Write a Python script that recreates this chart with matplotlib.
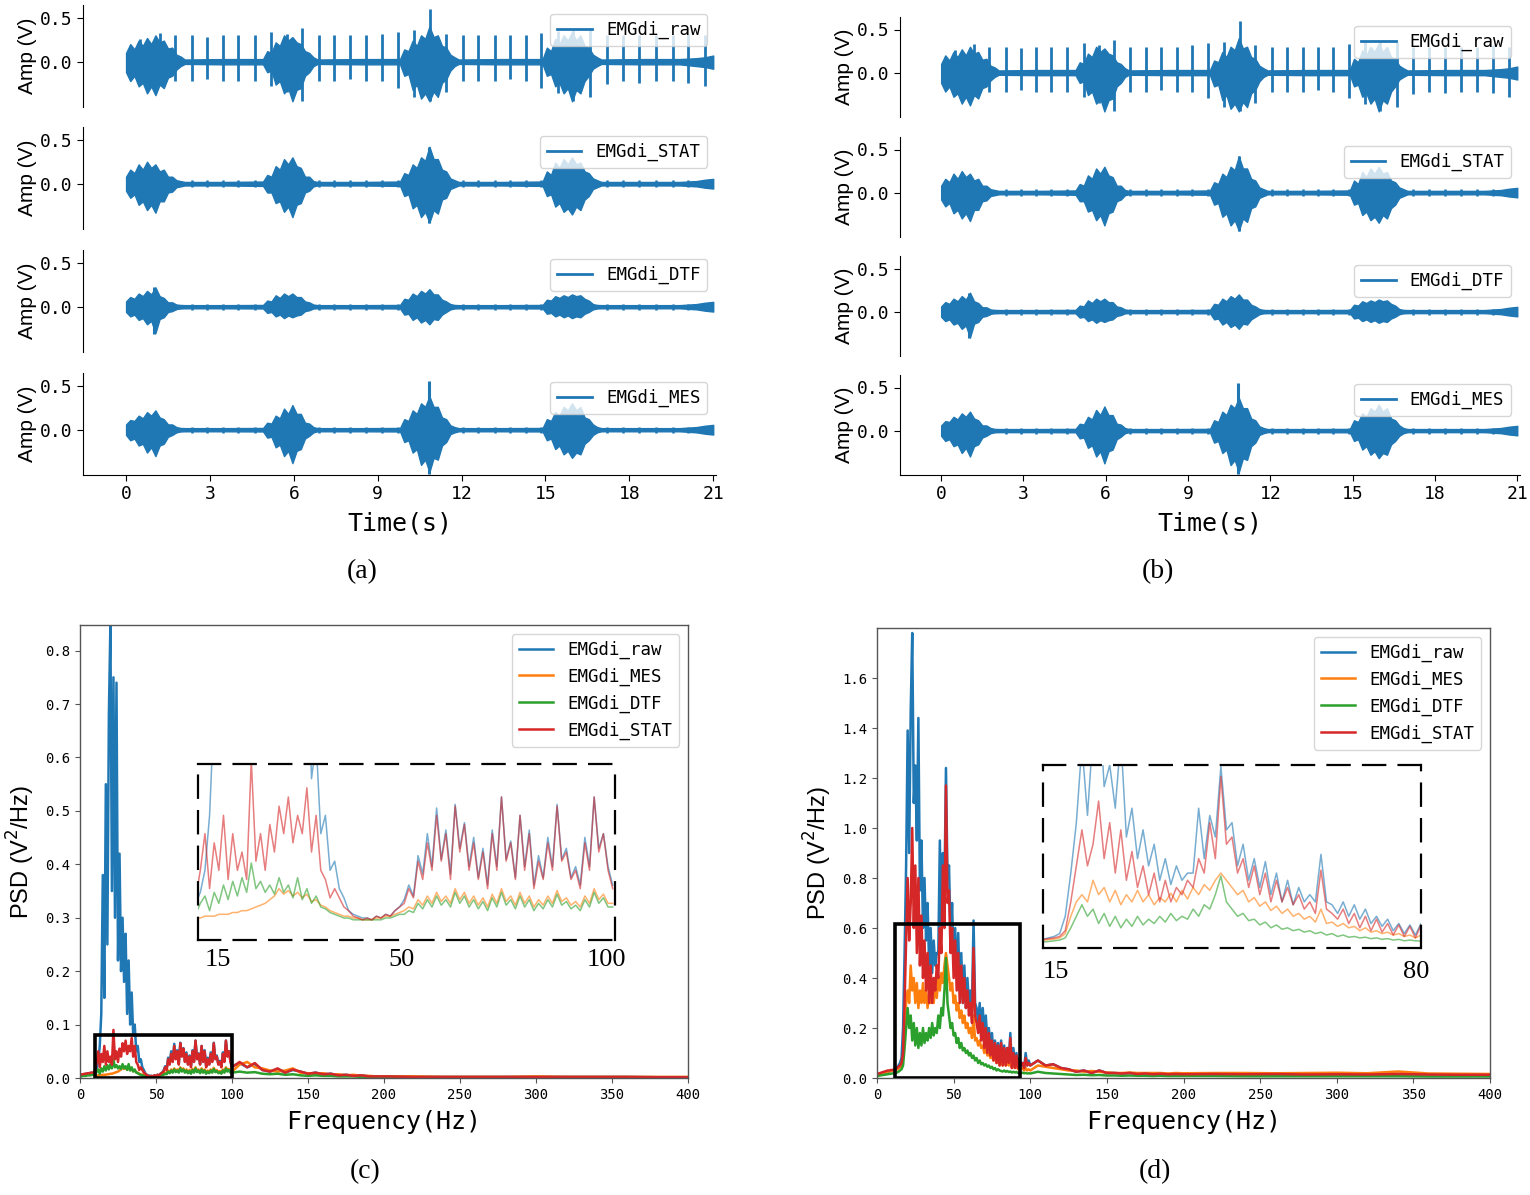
import numpy as np
import matplotlib
matplotlib.use('Agg')
import matplotlib.pyplot as plt
from matplotlib.patches import Rectangle
from matplotlib.lines import Line2D
from matplotlib import font_manager as fm

# ---------------- data: time-domain envelopes (V) ----------------
sig_names = ['EMGdi_raw', 'EMGdi_STAT', 'EMGdi_DTF', 'EMGdi_MES']
time_ticks = [0, 3, 6, 9, 12, 15, 18, 21]

# knot times of the envelopes (s)
env_t = [0.0, 0.15, 0.3, 0.45, 0.6, 0.75, 0.9, 1.05, 1.2, 1.35, 1.5, 1.65, 1.8, 1.95, 2.1,
         3.5,
         4.9, 5.05, 5.2, 5.35, 5.5, 5.65, 5.8, 5.95, 6.1, 6.25, 6.4, 6.55, 6.7, 6.85,
         8.4,
         9.8, 9.95, 10.1, 10.25, 10.4, 10.55, 10.7, 10.85, 11.0, 11.15, 11.3, 11.45, 11.6, 11.75, 11.9,
         13.4,
         14.9, 15.05, 15.2, 15.35, 15.5, 15.65, 15.8, 15.95, 16.1, 16.25, 16.4, 16.55, 16.7, 16.85, 17.0,
         18.5, 19.8, 20.4, 20.7, 21.0]

raw_up = [0.10, 0.20, 0.14, 0.24, 0.18, 0.27, 0.20, 0.30, 0.22, 0.24, 0.15, 0.16, 0.08, 0.06, 0.025,
          0.03,
          0.03, 0.12, 0.10, 0.22, 0.18, 0.30, 0.24, 0.28, 0.22, 0.20, 0.12, 0.10, 0.05, 0.025,
          0.03,
          0.03, 0.14, 0.12, 0.24, 0.18, 0.30, 0.26, 0.40, 0.28, 0.30, 0.18, 0.16, 0.08, 0.05, 0.025,
          0.03,
          0.03, 0.16, 0.12, 0.26, 0.20, 0.30, 0.24, 0.34, 0.24, 0.30, 0.18, 0.16, 0.08, 0.05, 0.025,
          0.03, 0.03, 0.04, 0.05, 0.07]
raw_lo = [-0.12, -0.22, -0.16, -0.28, -0.24, -0.36, -0.28, -0.38, -0.26, -0.30, -0.18, -0.16, -0.09, -0.05, -0.025,
          -0.03,
          -0.03, -0.12, -0.10, -0.26, -0.22, -0.36, -0.30, -0.45, -0.32, -0.30, -0.16, -0.12, -0.05, -0.025,
          -0.03,
          -0.03, -0.16, -0.14, -0.32, -0.26, -0.42, -0.36, -0.45, -0.34, -0.40, -0.24, -0.20, -0.10, -0.05, -0.025,
          -0.03,
          -0.03, -0.16, -0.14, -0.28, -0.24, -0.36, -0.30, -0.45, -0.32, -0.36, -0.22, -0.16, -0.08, -0.05, -0.025,
          -0.03, -0.03, -0.05, -0.06, -0.08]

stat_up = [0.08, 0.16, 0.12, 0.22, 0.16, 0.25, 0.18, 0.22, 0.14, 0.16, 0.08, 0.08, 0.04, 0.03, 0.02,
           0.02,
           0.025, 0.10, 0.08, 0.20, 0.16, 0.28, 0.22, 0.30, 0.20, 0.18, 0.08, 0.08, 0.03, 0.02,
           0.02,
           0.025, 0.12, 0.10, 0.22, 0.18, 0.30, 0.26, 0.42, 0.28, 0.28, 0.16, 0.14, 0.06, 0.04, 0.02,
           0.02,
           0.025, 0.14, 0.10, 0.24, 0.18, 0.28, 0.22, 0.30, 0.22, 0.24, 0.14, 0.12, 0.06, 0.04, 0.02,
           0.02, 0.02, 0.03, 0.045, 0.055]
stat_lo = [-0.08, -0.16, -0.12, -0.24, -0.20, -0.30, -0.24, -0.33, -0.20, -0.20, -0.10, -0.09, -0.04, -0.03, -0.02,
           -0.02,
           -0.025, -0.10, -0.10, -0.22, -0.20, -0.32, -0.26, -0.38, -0.24, -0.22, -0.10, -0.08, -0.03, -0.02,
           -0.02,
           -0.025, -0.14, -0.12, -0.28, -0.24, -0.38, -0.32, -0.44, -0.30, -0.34, -0.18, -0.16, -0.06, -0.04, -0.02,
           -0.02,
           -0.025, -0.14, -0.12, -0.26, -0.22, -0.32, -0.28, -0.35, -0.26, -0.30, -0.18, -0.14, -0.06, -0.04, -0.02,
           -0.02, -0.02, -0.03, -0.045, -0.055]

dtf_up = [0.06, 0.11, 0.09, 0.15, 0.12, 0.18, 0.14, 0.22, 0.12, 0.10, 0.05, 0.05, 0.025, 0.02, 0.018,
          0.018,
          0.02, 0.07, 0.06, 0.13, 0.10, 0.15, 0.12, 0.15, 0.11, 0.11, 0.06, 0.05, 0.025, 0.018,
          0.018,
          0.02, 0.09, 0.08, 0.15, 0.12, 0.18, 0.15, 0.20, 0.14, 0.14, 0.08, 0.06, 0.03, 0.02, 0.018,
          0.018,
          0.02, 0.08, 0.07, 0.12, 0.10, 0.13, 0.11, 0.14, 0.12, 0.13, 0.09, 0.07, 0.03, 0.02, 0.018,
          0.018, 0.018, 0.03, 0.045, 0.055]
dtf_lo = [-0.06, -0.11, -0.09, -0.15, -0.13, -0.20, -0.16, -0.30, -0.14, -0.12, -0.06, -0.05, -0.025, -0.02, -0.018,
          -0.018,
          -0.02, -0.07, -0.06, -0.11, -0.09, -0.13, -0.10, -0.12, -0.10, -0.09, -0.05, -0.04, -0.02, -0.018,
          -0.018,
          -0.02, -0.09, -0.08, -0.15, -0.12, -0.18, -0.15, -0.20, -0.14, -0.15, -0.09, -0.06, -0.03, -0.02, -0.018,
          -0.018,
          -0.02, -0.08, -0.07, -0.11, -0.09, -0.12, -0.10, -0.13, -0.11, -0.12, -0.08, -0.06, -0.03, -0.02, -0.018,
          -0.018, -0.018, -0.03, -0.045, -0.055]

mes_up = [0.06, 0.11, 0.10, 0.16, 0.13, 0.20, 0.16, 0.22, 0.14, 0.12, 0.06, 0.06, 0.03, 0.02, 0.018,
          0.018,
          0.02, 0.08, 0.07, 0.16, 0.13, 0.24, 0.18, 0.28, 0.18, 0.18, 0.08, 0.07, 0.03, 0.018,
          0.018,
          0.02, 0.12, 0.10, 0.22, 0.18, 0.30, 0.26, 0.38, 0.26, 0.26, 0.14, 0.12, 0.05, 0.03, 0.018,
          0.018,
          0.02, 0.12, 0.10, 0.20, 0.16, 0.26, 0.22, 0.30, 0.22, 0.26, 0.14, 0.12, 0.06, 0.03, 0.018,
          0.018, 0.018, 0.03, 0.045, 0.055]
mes_lo = [-0.06, -0.12, -0.10, -0.18, -0.16, -0.26, -0.20, -0.30, -0.18, -0.16, -0.08, -0.06, -0.03, -0.02, -0.018,
          -0.018,
          -0.02, -0.09, -0.08, -0.20, -0.17, -0.30, -0.24, -0.38, -0.24, -0.22, -0.10, -0.07, -0.03, -0.018,
          -0.018,
          -0.02, -0.14, -0.12, -0.26, -0.22, -0.40, -0.34, -0.48, -0.32, -0.34, -0.18, -0.14, -0.05, -0.03, -0.018,
          -0.018,
          -0.02, -0.12, -0.10, -0.22, -0.18, -0.28, -0.24, -0.32, -0.26, -0.28, -0.16, -0.12, -0.06, -0.03, -0.018,
          -0.018, -0.018, -0.03, -0.045, -0.055]

# cardiac artefact spikes in the raw signal
spike_t = [0.5, 1.2, 1.75, 2.35, 2.9, 3.47, 4.02, 4.6, 5.2, 5.75, 6.3, 6.9, 7.45, 8.0, 8.58, 9.15,
           9.72, 10.3, 10.88, 11.45, 12.05, 12.6, 13.18, 13.75, 14.3, 14.85, 15.45, 16.0, 16.6, 17.2,
           17.78, 18.35, 18.95, 19.55, 20.1, 20.7]
spike_up = [0.26, 0.33, 0.30, 0.30, 0.28, 0.30, 0.30, 0.30, 0.34, 0.32, 0.38, 0.30, 0.30, 0.30, 0.30, 0.32,
            0.34, 0.36, 0.60, 0.32, 0.30, 0.30, 0.30, 0.30, 0.30, 0.33, 0.35, 0.36, 0.36, 0.30,
            0.30, 0.30, 0.30, 0.30, 0.32, 0.30]
spike_lo = [-0.20, -0.25, -0.22, -0.22, -0.20, -0.22, -0.22, -0.22, -0.28, -0.35, -0.45, -0.22, -0.22, -0.20, -0.22, -0.22,
            -0.30, -0.40, -0.45, -0.35, -0.22, -0.22, -0.22, -0.20, -0.22, -0.30, -0.36, -0.45, -0.40, -0.25,
            -0.22, -0.24, -0.22, -0.22, -0.24, -0.28]
# residual artefact amplitude left in the filtered signals
resid_amp = [0.0, 0.04, 0.035, 0.035]
# isolated peaks of the filtered signals
peak_t = [[], [10.85], [1.0], [10.82]]
peak_up = [[], [0.42], [0.22], [0.55]]
peak_lo = [[], [-0.45], [-0.31], [-0.50]]

env_up = [raw_up, stat_up, dtf_up, mes_up]
env_lo = [raw_lo, stat_lo, dtf_lo, mes_lo]

# ---------------- data: PSD (V^2/Hz) ----------------
psd_names = ['EMGdi_raw', 'EMGdi_MES', 'EMGdi_DTF', 'EMGdi_STAT']
f_lo = np.arange(0, 101)  # 1 Hz bins, 0-100 Hz
f_tail = [105, 110, 115, 120, 125, 130, 135, 140, 145, 150, 155, 160, 165, 170, 175,
          180, 185, 190, 195, 200, 220, 240, 260, 280, 300, 320, 340, 360, 380, 400]

c_raw = [0.004, 0.005, 0.006, 0.007, 0.008, 0.008, 0.009, 0.009, 0.010, 0.010,
         0.012, 0.018, 0.030, 0.060, 0.120, 0.380, 0.150, 0.550, 0.250, 0.680,
         0.850, 0.350, 0.750, 0.300, 0.740, 0.220, 0.420, 0.200, 0.300, 0.180,
         0.270, 0.120, 0.220, 0.100, 0.160, 0.080, 0.100, 0.050, 0.060, 0.030,
         0.035, 0.020, 0.015, 0.008, 0.006, 0.005, 0.004, 0.004, 0.003, 0.005,
         0.004, 0.006, 0.005, 0.008, 0.010, 0.014, 0.022, 0.016, 0.038, 0.028,
         0.050, 0.032, 0.064, 0.036, 0.052, 0.028, 0.066, 0.042, 0.056, 0.032,
         0.048, 0.026, 0.042, 0.022, 0.052, 0.032, 0.070, 0.036, 0.046, 0.026,
         0.060, 0.032, 0.052, 0.022, 0.038, 0.026, 0.048, 0.032, 0.066, 0.036,
         0.042, 0.026, 0.032, 0.022, 0.048, 0.032, 0.070, 0.042, 0.050, 0.032,
         0.022]
c_mes = [0.005, 0.005, 0.006, 0.006, 0.007, 0.007, 0.007, 0.008, 0.008, 0.008,
         0.004, 0.004, 0.005, 0.005, 0.005, 0.006, 0.006, 0.006, 0.007, 0.007,
         0.008, 0.008, 0.009, 0.010, 0.011, 0.012, 0.014, 0.016, 0.020, 0.017,
         0.019, 0.016, 0.018, 0.015, 0.017, 0.013, 0.014, 0.011, 0.010, 0.008,
         0.007, 0.006, 0.005, 0.005, 0.004, 0.004, 0.003, 0.003, 0.003, 0.004,
         0.004, 0.005, 0.005, 0.006, 0.007, 0.008, 0.010, 0.009, 0.014, 0.011,
         0.016, 0.012, 0.018, 0.013, 0.016, 0.012, 0.020, 0.014, 0.018, 0.012,
         0.016, 0.011, 0.015, 0.010, 0.017, 0.012, 0.020, 0.013, 0.016, 0.011,
         0.018, 0.012, 0.016, 0.010, 0.014, 0.011, 0.016, 0.012, 0.019, 0.013,
         0.015, 0.011, 0.013, 0.010, 0.016, 0.012, 0.020, 0.014, 0.017, 0.012,
         0.012]
c_dtf = [0.003, 0.003, 0.004, 0.004, 0.004, 0.005, 0.005, 0.005, 0.006, 0.006,
         0.006, 0.012, 0.016, 0.008, 0.018, 0.012, 0.022, 0.014, 0.024, 0.016,
         0.026, 0.018, 0.034, 0.020, 0.024, 0.018, 0.022, 0.017, 0.026, 0.018,
         0.022, 0.015, 0.026, 0.014, 0.020, 0.012, 0.016, 0.010, 0.009, 0.007,
         0.006, 0.005, 0.004, 0.004, 0.003, 0.003, 0.003, 0.003, 0.003, 0.003,
         0.003, 0.004, 0.004, 0.005, 0.006, 0.006, 0.008, 0.007, 0.012, 0.009,
         0.014, 0.010, 0.016, 0.011, 0.014, 0.010, 0.018, 0.012, 0.016, 0.010,
         0.014, 0.009, 0.013, 0.008, 0.015, 0.010, 0.018, 0.011, 0.014, 0.009,
         0.016, 0.010, 0.014, 0.008, 0.012, 0.009, 0.014, 0.010, 0.017, 0.011,
         0.013, 0.009, 0.011, 0.008, 0.014, 0.010, 0.018, 0.012, 0.015, 0.010,
         0.010]
c_stat = [0.006, 0.007, 0.007, 0.008, 0.008, 0.009, 0.009, 0.010, 0.010, 0.010,
          0.015, 0.030, 0.050, 0.020, 0.045, 0.030, 0.060, 0.025, 0.050, 0.030,
          0.040, 0.025, 0.090, 0.035, 0.050, 0.030, 0.055, 0.040, 0.065, 0.050,
          0.070, 0.045, 0.060, 0.050, 0.075, 0.040, 0.060, 0.030, 0.025, 0.015,
          0.020, 0.015, 0.010, 0.008, 0.005, 0.004, 0.003, 0.004, 0.003, 0.005,
          0.004, 0.006, 0.005, 0.008, 0.010, 0.012, 0.020, 0.015, 0.035, 0.025,
          0.045, 0.030, 0.060, 0.035, 0.050, 0.025, 0.065, 0.040, 0.055, 0.030,
          0.045, 0.025, 0.040, 0.020, 0.050, 0.030, 0.070, 0.035, 0.045, 0.025,
          0.060, 0.030, 0.050, 0.020, 0.035, 0.025, 0.045, 0.030, 0.065, 0.035,
          0.040, 0.025, 0.030, 0.020, 0.045, 0.030, 0.070, 0.040, 0.050, 0.030,
          0.020]
c_raw_tail = [0.028, 0.020, 0.026, 0.015, 0.012, 0.017, 0.010, 0.015, 0.012, 0.008, 0.010, 0.007, 0.008, 0.005, 0.006,
              0.004, 0.005, 0.003, 0.003, 0.003, 0.002, 0.002, 0.002, 0.002, 0.002, 0.002, 0.002, 0.002, 0.0015, 0.0015]
c_mes_tail = [0.025, 0.030, 0.020, 0.018, 0.014, 0.012, 0.014, 0.018, 0.010, 0.009, 0.008, 0.009, 0.006, 0.007, 0.005,
              0.006, 0.004, 0.004, 0.003, 0.003, 0.003, 0.002, 0.002, 0.002, 0.003, 0.002, 0.002, 0.002, 0.002, 0.002]
c_dtf_tail = [0.012, 0.010, 0.011, 0.008, 0.007, 0.008, 0.006, 0.007, 0.005, 0.004, 0.005, 0.004, 0.004, 0.003, 0.003,
              0.003, 0.002, 0.002, 0.002, 0.002, 0.0015, 0.0015, 0.0015, 0.0015, 0.0015, 0.0015, 0.0015, 0.0015, 0.001, 0.001]
c_stat_tail = [0.030, 0.020, 0.028, 0.015, 0.012, 0.018, 0.010, 0.016, 0.012, 0.008, 0.010, 0.007, 0.008, 0.005, 0.006,
               0.004, 0.005, 0.003, 0.003, 0.003, 0.002, 0.002, 0.002, 0.002, 0.002, 0.002, 0.002, 0.002, 0.0015, 0.0015]

d_raw = [0.010, 0.012, 0.014, 0.016, 0.018, 0.020, 0.022, 0.024, 0.026, 0.028,
         0.030, 0.030, 0.035, 0.040, 0.050, 0.060, 0.080, 0.200, 0.500, 0.850,
         1.390, 0.900, 1.470, 1.780, 1.100, 1.250, 0.950, 1.440, 0.750, 0.950,
         0.600, 0.800, 0.550, 0.700, 0.450, 0.600, 0.420, 0.550, 0.450, 0.500,
         0.500, 0.950, 0.600, 0.900, 0.750, 1.240, 0.800, 0.850, 0.550, 0.700,
         0.450, 0.600, 0.400, 0.580, 0.350, 0.500, 0.300, 0.450, 0.280, 0.400,
         0.300, 0.350, 0.300, 0.630, 0.300, 0.280, 0.220, 0.300, 0.200, 0.280,
         0.180, 0.250, 0.150, 0.200, 0.130, 0.180, 0.100, 0.150, 0.080, 0.140,
         0.070, 0.150, 0.060, 0.130, 0.060, 0.120, 0.070, 0.180, 0.050, 0.120,
         0.050, 0.100, 0.040, 0.080, 0.050, 0.060, 0.040, 0.100, 0.050, 0.070,
         0.050]
d_mes = [0.012, 0.014, 0.016, 0.018, 0.020, 0.022, 0.024, 0.026, 0.026, 0.028,
         0.028, 0.030, 0.032, 0.034, 0.038, 0.042, 0.050, 0.080, 0.200, 0.300,
         0.350, 0.300, 0.450, 0.350, 0.400, 0.300, 0.380, 0.280, 0.350, 0.300,
         0.380, 0.300, 0.350, 0.280, 0.330, 0.300, 0.360, 0.300, 0.380, 0.320,
         0.400, 0.350, 0.420, 0.380, 0.450, 0.500, 0.450, 0.400, 0.350, 0.380,
         0.300, 0.330, 0.270, 0.300, 0.240, 0.270, 0.220, 0.250, 0.200, 0.220,
         0.180, 0.200, 0.160, 0.250, 0.150, 0.160, 0.130, 0.150, 0.120, 0.130,
         0.100, 0.120, 0.090, 0.100, 0.080, 0.090, 0.070, 0.080, 0.060, 0.070,
         0.050, 0.070, 0.050, 0.060, 0.050, 0.060, 0.050, 0.070, 0.040, 0.050,
         0.040, 0.050, 0.035, 0.045, 0.035, 0.040, 0.030, 0.040, 0.030, 0.035,
         0.030]
d_dtf = [0.008, 0.009, 0.010, 0.011, 0.012, 0.013, 0.014, 0.015, 0.016, 0.017,
         0.018, 0.019, 0.020, 0.022, 0.025, 0.030, 0.035, 0.050, 0.120, 0.200,
         0.280, 0.200, 0.250, 0.150, 0.220, 0.130, 0.200, 0.120, 0.180, 0.130,
         0.200, 0.140, 0.180, 0.150, 0.200, 0.160, 0.220, 0.170, 0.200, 0.180,
         0.250, 0.200, 0.280, 0.250, 0.350, 0.480, 0.300, 0.250, 0.200, 0.220,
         0.170, 0.180, 0.140, 0.160, 0.120, 0.140, 0.110, 0.120, 0.100, 0.110,
         0.090, 0.100, 0.080, 0.090, 0.070, 0.080, 0.060, 0.070, 0.055, 0.060,
         0.050, 0.055, 0.045, 0.050, 0.040, 0.045, 0.035, 0.040, 0.030, 0.035,
         0.030, 0.028, 0.026, 0.030, 0.025, 0.028, 0.024, 0.026, 0.022, 0.025,
         0.022, 0.024, 0.020, 0.022, 0.020, 0.021, 0.019, 0.020, 0.018, 0.019,
         0.018]
d_stat = [0.015, 0.018, 0.020, 0.022, 0.024, 0.026, 0.028, 0.030, 0.030, 0.032,
          0.032, 0.034, 0.036, 0.040, 0.045, 0.050, 0.060, 0.100, 0.300, 0.550,
          0.800, 0.550, 0.700, 1.000, 0.600, 0.850, 0.500, 0.800, 0.450, 0.650,
          0.400, 0.550, 0.350, 0.500, 0.300, 0.450, 0.300, 0.400, 0.350, 0.450,
          0.400, 0.600, 0.500, 0.850, 0.600, 1.170, 0.700, 0.750, 0.500, 0.600,
          0.400, 0.550, 0.350, 0.500, 0.300, 0.450, 0.300, 0.400, 0.280, 0.350,
          0.250, 0.300, 0.220, 0.520, 0.250, 0.220, 0.180, 0.250, 0.150, 0.220,
          0.120, 0.200, 0.100, 0.180, 0.090, 0.150, 0.070, 0.140, 0.060, 0.130,
          0.050, 0.140, 0.050, 0.120, 0.050, 0.120, 0.060, 0.160, 0.040, 0.100,
          0.040, 0.090, 0.040, 0.070, 0.050, 0.060, 0.040, 0.080, 0.050, 0.060,
          0.050]
d_raw_tail = [0.070, 0.050, 0.055, 0.040, 0.035, 0.025, 0.030, 0.020, 0.030, 0.020, 0.020, 0.018, 0.020, 0.016, 0.018,
              0.015, 0.017, 0.015, 0.016, 0.015, 0.016, 0.015, 0.016, 0.014, 0.015, 0.014, 0.016, 0.014, 0.013, 0.013]
d_mes_tail = [0.050, 0.045, 0.040, 0.035, 0.030, 0.030, 0.025, 0.028, 0.025, 0.022, 0.020, 0.020, 0.022, 0.020, 0.020,
              0.020, 0.020, 0.018, 0.020, 0.019, 0.020, 0.020, 0.019, 0.020, 0.021, 0.019, 0.026, 0.018, 0.017, 0.016]
d_dtf_tail = [0.025, 0.020, 0.018, 0.016, 0.014, 0.012, 0.013, 0.011, 0.012, 0.010, 0.010, 0.009, 0.010, 0.009, 0.009,
              0.008, 0.009, 0.008, 0.008, 0.008, 0.008, 0.007, 0.007, 0.007, 0.007, 0.007, 0.007, 0.006, 0.006, 0.006]
d_stat_tail = [0.070, 0.050, 0.055, 0.040, 0.035, 0.025, 0.030, 0.020, 0.030, 0.020, 0.020, 0.018, 0.020, 0.016, 0.018,
               0.015, 0.017, 0.015, 0.016, 0.015, 0.016, 0.015, 0.016, 0.014, 0.015, 0.014, 0.016, 0.014, 0.013, 0.013]

psd_c = [(c_raw, c_raw_tail), (c_mes, c_mes_tail), (c_dtf, c_dtf_tail), (c_stat, c_stat_tail)]
psd_d = [(d_raw, d_raw_tail), (d_mes, d_mes_tail), (d_dtf, d_dtf_tail), (d_stat, d_stat_tail)]
psd_xticks = [0, 50, 100, 150, 200, 250, 300, 350, 400]
c_yticks = [0.0, 0.1, 0.2, 0.3, 0.4, 0.5, 0.6, 0.7, 0.8]
d_yticks = [0.0, 0.2, 0.4, 0.6, 0.8, 1.0, 1.2, 1.4, 1.6]

# ---------------- style ----------------
BLUE = '#1f77b4'
psd_colors = ['#1f77b4', '#ff7f0e', '#2ca02c', '#d62728']
installed = {f.name for f in fm.fontManager.ttflist}
MONO = 'Noto Sans Mono CJK SC' if 'Noto Sans Mono CJK SC' in installed else 'DejaVu Sans Mono'
plt.rcParams['font.family'] = [MONO, 'DejaVu Sans']
SERIF = 'Liberation Serif'
SANS = 'Liberation Sans'

W, H = 1530, 1195
fig = plt.figure(figsize=(W / 100, H / 100), dpi=100)


def px_axes(x0, y0, x1, y1):
    return fig.add_axes([x0 / W, 1 - y1 / H, (x1 - x0) / W, (y1 - y0) / H])


# ---------------- (a) and (b): time signals ----------------
panels = [dict(x0=83, x1=716, tops=[5, 127, 250, 373], h=102, xlim=(-1.54, 21.1), cap=(362, '(a)')),
          dict(x0=900, x1=1520, tops=[17, 137, 256, 375], h=100, xlim=(-1.5, 21.1), cap=(1158, '(b)'))]

for p in panels:
    for i in range(4):
        ax = px_axes(p['x0'], p['tops'][i], p['x1'], p['tops'][i] + p['h'])
        ax.fill_between(env_t, env_lo[i], env_up[i], color=BLUE, lw=1.0, edgecolor=BLUE)
        if i == 0:
            ax.vlines(spike_t, spike_lo, spike_up, color=BLUE, lw=2.0)
        else:
            ax.vlines(spike_t, -resid_amp[i], resid_amp[i], color=BLUE, lw=1.8)
            ax.vlines(peak_t[i], peak_lo[i], peak_up[i], color=BLUE, lw=2.2)
        ax.set_xlim(*p['xlim'])
        ax.set_ylim(-0.515, 0.645)
        ax.set_yticks([0.0, 0.5])
        ax.set_yticklabels(['0.0', '0.5'])
        ax.spines['top'].set_visible(False)
        ax.spines['right'].set_visible(False)
        ax.tick_params(labelsize=13, length=4)
        ax.set_ylabel('Amp (V)', family=SANS, fontsize=15, labelpad=2)
        if i < 3:
            ax.spines['bottom'].set_visible(False)
            ax.tick_params(bottom=False, labelbottom=False)
        else:
            ax.set_xticks(time_ticks)
            ax.set_xticklabels([str(t) for t in time_ticks])
            ax.set_xlabel('Time(s)', fontsize=18, labelpad=6)
        ax.legend(handles=[Line2D([], [], color=BLUE, lw=2)], labels=[sig_names[i]],
                  loc='upper right', fontsize=12.5, framealpha=0.8)
    fig.text(p['cap'][0] / W, 1 - 572 / H, p['cap'][1], family=SERIF, fontsize=20,
             ha='center', va='center')

# ---------------- (c) and (d): PSD ----------------
psd_panels = [dict(box=(80, 625, 688, 1078), ylim=(0, 0.848), yt=c_yticks, data=psd_c,
                   rect=(10, 0, 90, 0.0805), inset=(198, 764, 615, 940), ixlim=(10.5, 100.5),
                   iylim=(-0.008, 0.088), labels=[(218, '15'), (402, '50'), (606, '100')], ly=960,
                   cap=(365, '(c)')),
              dict(box=(877, 628, 1490, 1078), ylim=(0, 1.8), yt=d_yticks, data=psd_d,
                   rect=(11.5, 0, 81.5, 0.615), inset=(1043, 765, 1421, 948), ixlim=(13, 81),
                   iylim=(-0.02, 1.25), labels=[(1056, '15'), (1416, '80')], ly=972,
                   cap=(1155, '(d)'))]

for p in psd_panels:
    ax = px_axes(*p['box'])
    for (lo, tail), col, name in zip(p['data'], psd_colors, psd_names):
        ax.plot(np.concatenate([f_lo, f_tail]), np.concatenate([lo, tail]), color=col, lw=1.8, label=name)
    ax.add_patch(Rectangle(p['rect'][:2], p['rect'][2], p['rect'][3], fill=False, ec='black', lw=2.6, zorder=5))
    ax.set_xlim(0, 400)
    ax.set_ylim(*p['ylim'])
    ax.set_xticks(psd_xticks)
    ax.set_yticks(p['yt'])
    ax.set_yticklabels(['%.1f' % v for v in p['yt']])
    for s in ax.spines.values():
        s.set_color('#555555')
        s.set_linewidth(1.0)
    ax.tick_params(labelsize=10, length=3.5, color='#555555')
    ax.set_xlabel('Frequency(Hz)', fontsize=18, labelpad=6)
    ax.set_ylabel('PSD (V$^2$/Hz)', family=SANS, fontsize=17, labelpad=6)
    ax.legend(loc='upper right', fontsize=12.5, framealpha=0.8, handlelength=2.0)

    ins = px_axes(*p['inset'])
    for (lo, tail), col in zip(p['data'], psd_colors):
        ins.plot(f_lo, lo, color=col, lw=1.1, alpha=0.6)
    ins.set_xlim(*p['ixlim'])
    ins.set_ylim(*p['iylim'])
    ins.set_xticks([])
    ins.set_yticks([])
    for s in ins.spines.values():
        s.set_linestyle((0, (10, 6)))
        s.set_linewidth(1.6)
    for x, txt in p['labels']:
        fig.text(x / W, 1 - p['ly'] / H, txt, family=SERIF, fontsize=19, ha='center', va='center')
    fig.text(p['cap'][0] / W, 1 - 1172 / H, p['cap'][1], family=SERIF, fontsize=20,
             ha='center', va='center')

fig.savefig('out.png', dpi=100)
